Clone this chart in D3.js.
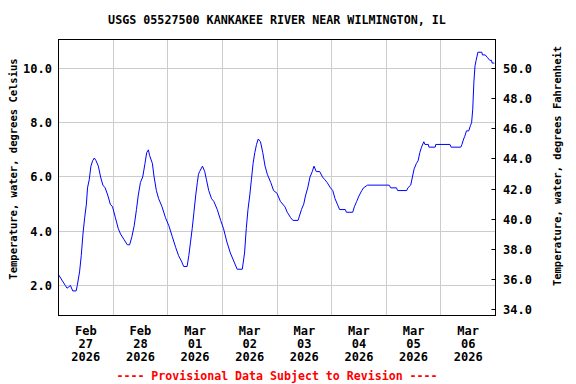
<!DOCTYPE html>
<html>
<head>
<meta charset="utf-8">
<script src="https://cdn.jsdelivr.net/npm/d3@7"></script>
<style>
  body { margin: 0; background: #fff; }
  svg { display: block; }
  text { font-family: "DejaVu Sans Mono", monospace; font-weight: bold; }
</style>
</head>
<body>
<div id="container"><svg></svg></div>
<script>
let width = 576;
let height = 384;

let title = 'USGS 05527500 KANKAKEE RIVER NEAR WILMINGTON, IL';
let y_attr_c = 'Temperature, water, degrees Celsius';
let y_attr_f = 'Temperature, water, degrees Fahrenheit';
let footer = '---- Provisional Data Subject to Revision ----';

// hours after 2026-02-27 00:00
let start = new Date(2026, 1, 27, 0, 0);
let obsHours = [
    0, 1.5, 3, 3.75, 5.25, 6.25, 7.75, 8.25, 9.25, 10, 10.75, 11.5, 12.25, 12.75, 13.5, 14.25, 15, 15.75, 16.5, 17.5, 18.5, 19.5, 20.5, 21.75, 22.75, 23.75,
    25, 26.25, 27.25, 28.75, 30.25, 31.25, 32.25, 33.25, 34.25, 35, 36, 37, 38, 38.75, 39.5, 40, 41.25, 42, 43, 44, 45.5, 47,
    48.5, 50, 51.5, 52.75, 54, 55, 56.5, 57.25, 58, 58.75, 59.5, 60.25, 61, 61.5, 62, 63.25, 64.25, 65, 66, 67.25, 68.25, 69.75, 71.25,
    72.5, 74, 75.5, 77, 78.5, 80.75, 81.75, 82.5, 83.25, 84, 84.75, 85.5, 86.25, 87, 87.75, 88.75, 89.75, 90.75, 91.75, 93.25, 94.5,
    96, 97.5, 99.5, 100.5, 102, 103, 105.25, 106, 106.75, 107.75, 108.5, 109.5, 110.5, 111.5, 112.25, 113.25, 114.75, 116, 117, 118, 119.5,
    120.5, 121.5, 122.5, 123.5, 126, 126.5, 129.25, 130, 131, 132, 133.25, 134, 135.75, 145.25, 146, 148.5, 149, 153, 153.5, 154.75, 155.5, 156.25, 157.25, 158, 158.75, 159.5, 160.5, 161, 162.5, 162.75, 165.5, 165.75,
    172, 172.5, 176.75, 177.25, 178, 178.5, 179.25, 180.25, 181, 181.5, 182, 182.5, 183, 183.5, 184.25, 186, 186.25, 187.5, 188.5, 189.5, 190.25, 190.5, 191.5
];
let tempC = [
    2.4, 2.2, 2.0, 1.9, 2.0, 1.8, 1.8, 2.0, 2.5, 3.1, 3.9, 4.5, 5.0, 5.6, 5.9, 6.4, 6.6, 6.7, 6.6, 6.4, 6.0, 5.7, 5.6, 5.3, 5.0, 4.9,
    4.5, 4.1, 3.9, 3.7, 3.5, 3.5, 3.8, 4.2, 4.8, 5.3, 5.8, 6.0, 6.5, 6.9, 7.0, 6.8, 6.5, 6.0, 5.5, 5.2, 4.9, 4.5,
    4.2, 3.8, 3.4, 3.1, 2.9, 2.7, 2.7, 3.1, 3.6, 4.1, 4.7, 5.3, 5.8, 6.1, 6.2, 6.4, 6.2, 5.9, 5.5, 5.2, 5.1, 4.8, 4.4,
    4.1, 3.6, 3.2, 2.9, 2.6, 2.6, 3.2, 4.1, 4.8, 5.3, 5.9, 6.5, 6.9, 7.2, 7.4, 7.3, 6.9, 6.4, 6.1, 5.8, 5.5,
    5.4, 5.1, 4.9, 4.7, 4.5, 4.4, 4.4, 4.6, 4.8, 5.0, 5.3, 5.6, 6.0, 6.2, 6.4, 6.2, 6.2, 6.0, 5.9, 5.8, 5.6,
    5.5, 5.2, 5.0, 4.8, 4.8, 4.7, 4.7, 4.9, 5.1, 5.3, 5.5, 5.6, 5.7, 5.7, 5.6, 5.6, 5.5, 5.5, 5.6, 5.7, 6.0, 6.3, 6.5, 6.6, 6.9, 7.1, 7.3, 7.2, 7.2, 7.1, 7.1, 7.2,
    7.2, 7.1, 7.1, 7.2, 7.4, 7.5, 7.7, 7.7, 7.9, 8.0, 8.5, 9.5, 10.1, 10.3, 10.6, 10.6, 10.5, 10.5, 10.4, 10.3, 10.3, 10.2, 10.2
];

let cTicks = [2, 4, 6, 8, 10];
let fTicks = [34, 36, 38, 40, 42, 44, 46, 48, 50];
let dayTicks = ['2026-02-27', '2026-02-28', '2026-03-01', '2026-03-02', '2026-03-03', '2026-03-04', '2026-03-05', '2026-03-06'];

function draw_main() {
    let padding = {'left': 58.5, 'right': 495.5, 'top': 39.5, 'bottom': 315.5};
    let svg = d3.select('#container').select('svg')
        .attr('width', width)
        .attr('height', height);

    let data = obsHours.map((h, i) => ({t: d3.timeMinute.offset(start, Math.round(h * 60)), v: tempC[i]}));

    let x = d3.scaleTime()
        .domain([start, d3.timeDay.offset(start, 8)])
        .range([padding.left, padding.right]);
    let y = d3.scaleLinear()
        .domain([0.894, 11.069])
        .range([padding.bottom, padding.top]);
    let yF = d3.scaleLinear()
        .domain(y.domain().map(c => c * 9 / 5 + 32))
        .range(y.range());

    let crisp = v => Math.round(v - 0.5) + 0.5;
    let parse = d3.timeParse('%Y-%m-%d');
    let days = dayTicks.map(parse);

    // grid
    let grid = svg.append('g').attr('stroke', '#cccccc').attr('stroke-width', 1);
    grid.selectAll('.hg').data(cTicks).enter().append('line')
        .attr('x1', padding.left).attr('x2', padding.right)
        .attr('y1', d => crisp(y(d))).attr('y2', d => crisp(y(d)));
    grid.selectAll('.vg').data(days.slice(1)).enter().append('line')
        .attr('y1', padding.top).attr('y2', padding.bottom)
        .attr('x1', d => crisp(x(d))).attr('x2', d => crisp(x(d)));

    // line
    let line = d3.line()
        .x(d => x(d.t))
        .y(d => y(d.v));
    svg.append('path')
        .datum(data)
        .attr('fill', 'none')
        .attr('stroke', '#0000ff')
        .attr('stroke-width', 1)
        .attr('d', line);

    // frame
    svg.append('rect')
        .attr('x', padding.left).attr('y', padding.top)
        .attr('width', padding.right - padding.left)
        .attr('height', padding.bottom - padding.top)
        .attr('fill', 'none').attr('stroke', '#000');

    // left axis labels
    svg.append('g').selectAll('text').data(cTicks).enter().append('text')
        .attr('x', 52).attr('y', d => y(d) + 4.5)
        .attr('text-anchor', 'end').attr('font-size', 12)
        .text(d => d.toFixed(1));

    // right axis ticks + labels
    svg.append('g').selectAll('line').data(fTicks).enter().append('line')
        .attr('x1', padding.right - 4).attr('x2', padding.right)
        .attr('y1', d => crisp(yF(d))).attr('y2', d => crisp(yF(d)))
        .attr('stroke', '#000');
    svg.append('g').selectAll('text').data(fTicks).enter().append('text')
        .attr('x', 503).attr('y', d => yF(d) + 4.5)
        .attr('font-size', 12)
        .text(d => d.toFixed(1));

    // x labels at noon
    let fmtMon = d3.timeFormat('%b'), fmtDay = d3.timeFormat('%d'), fmtYr = d3.timeFormat('%Y');
    let xl = svg.append('g').selectAll('text').data(days).enter().append('text')
        .attr('text-anchor', 'middle').attr('font-size', 12)
        .attr('transform', d => `translate(${x(d3.timeHour.offset(d, 12))}, 0)`);
    xl.append('tspan').attr('x', 0).attr('y', 335).text(d => fmtMon(d));
    xl.append('tspan').attr('x', 0).attr('y', 348).text(d => fmtDay(d));
    xl.append('tspan').attr('x', 0).attr('y', 361).text(d => fmtYr(d));

    // title
    svg.append('text')
        .attr('x', 277).attr('y', 24)
        .attr('text-anchor', 'middle').attr('font-size', 11.7)
        .text(title);

    // axis titles
    svg.append('text')
        .attr('transform', 'translate(17, 169) rotate(-90)')
        .attr('text-anchor', 'middle').attr('font-size', 10.5)
        .text(y_attr_c);
    svg.append('text')
        .attr('transform', 'translate(561, 166) rotate(-90)')
        .attr('text-anchor', 'middle').attr('font-size', 10.5)
        .text(y_attr_f);

    // footer
    svg.append('text')
        .attr('x', 277).attr('y', 380)
        .attr('text-anchor', 'middle').attr('font-size', 11.6)
        .attr('fill', '#ff0000')
        .text(footer);
}

draw_main();
</script>
</body>
</html>
